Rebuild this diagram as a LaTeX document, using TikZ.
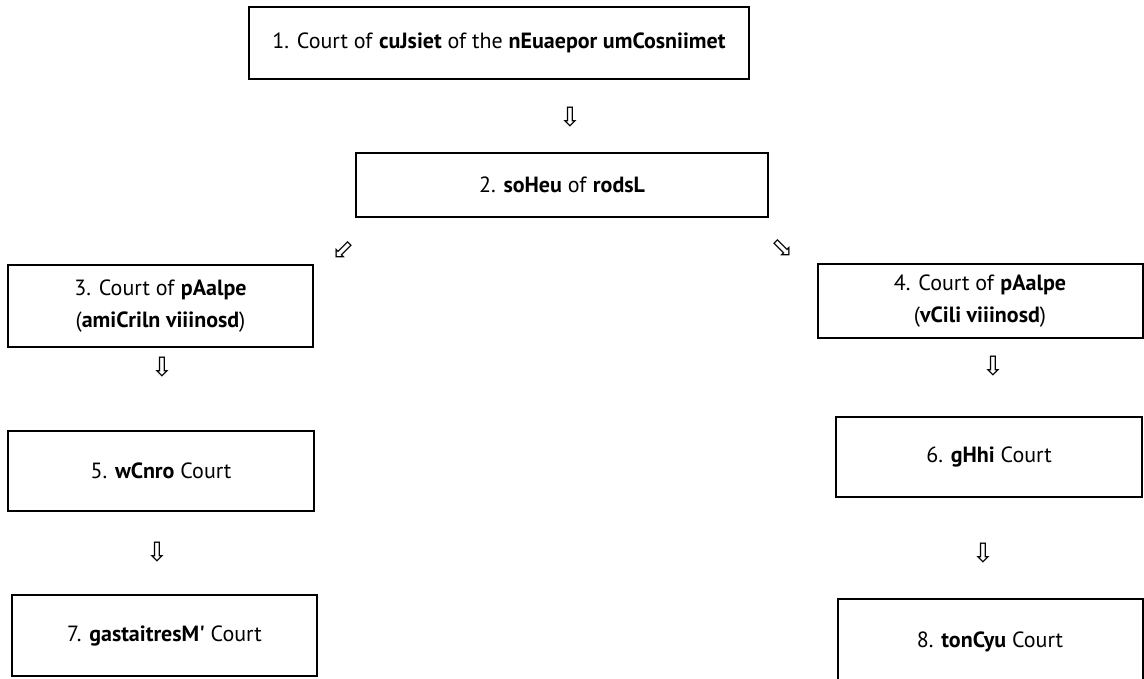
\documentclass[tikz,border=0pt]{standalone}
\usepackage{fontspec}
\setmainfont{PT Sans}
\newfontfamily\arrowfont{DejaVu Sans}
\usetikzlibrary{positioning}

\begin{document}
\begin{tikzpicture}[x=0.75pt, y=-0.75pt,
    court/.style = {draw, line width=1.5pt, inner sep=0pt, align=center,
      font=\fontsize{16.5}{24}\selectfont},
    down/.style = {inner sep=0pt, font=\arrowfont\fontsize{20}{20}\selectfont}]
  \useasboundingbox (0,0) rectangle (1144,678);
  % courts
  \node[court, minimum width=375pt, minimum height=54pt] (justice) at (499,43)
    {1. Court of \textbf{cuJsiet} of the \textbf{nEuaepor umCosniimet}};
  \node[court, minimum width=309pt, minimum height=48pt] (lords) at (562,185)
    {2. \textbf{soHeu} of \textbf{rodsL}};
  \node[court, minimum width=228.75pt, minimum height=61.5pt] (crim) at (160.5,306)
    {3. Court of \textbf{pAalpe}\\(\textbf{amiCriln viiinosd})};
  \node[court, minimum width=243.75pt, minimum height=55.5pt] (civ) at (980,301)
    {4. Court of \textbf{pAalpe}\\(\textbf{vCili viiinosd})};
  \node[court, minimum width=229.5pt, minimum height=60pt] (crown) at (161,471)
    {5. \textbf{wCnro} Court};
  \node[court, minimum width=229.5pt, minimum height=60pt] (high) at (989,457)
    {6. \textbf{gHhi} Court};
  \node[court, minimum width=228.75pt, minimum height=60.75pt] (magis) at (164.5,635.5)
    {7. \textbf{gastaitresM\textquotesingle} Court};
  \node[court, minimum width=228.75pt, minimum height=64.5pt] (county) at (990,642)
    {8. \textbf{tonCyu} Court};
  % arrows
  \node[down] (a1) at (570,117) {⇩};
  \node[down] (a2) at (343,250) {⬃};
  \node[down] (a3) at (782,248) {⬂};
  \node[down] (a4) at (162,367) {⇩};
  \node[down] (a5) at (993,366) {⇩};
  \node[down] (a6) at (157,552) {⇩};
  \node[down] (a7) at (983,553) {⇩};
\end{tikzpicture}
\end{document}
